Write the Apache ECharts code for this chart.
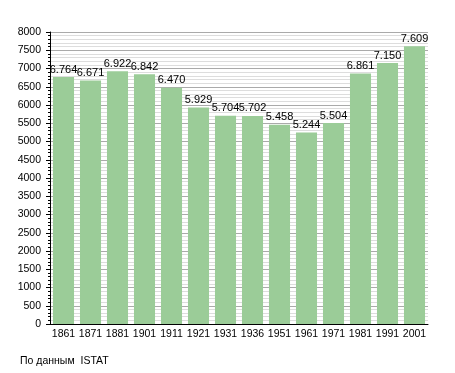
<!DOCTYPE html>
<html><head><meta charset="utf-8">
<script src="https://cdn.jsdelivr.net/npm/echarts@6/dist/echarts.min.js"></script>
<style>html,body{margin:0;padding:0;background:#fff}#c{width:455px;height:373px}</style>
</head><body><div id="c"></div>
<script>
const years = ['1861','1871','1881','1901','1911','1921','1931','1936','1951','1961','1971','1981','1991','2001'];
const population = [6764,6671,6922,6842,6470,5929,5704,5702,5458,5244,5504,6861,7150,7609];
const yTicks = {min:0, max:8000, interval:500};
const footer = 'По данным  ISTAT';

const chart = echarts.init(document.getElementById('c'), null, {renderer:'canvas'});
const fmt = v => { const s = String(v); return s.length > 3 ? s.slice(0, s.length-3) + '.' + s.slice(-3) : s; };
chart.setOption({
  animation:false,
  textStyle:{fontFamily:'Liberation Sans, Arial, sans-serif'},
  grid:{left:50, top:32, right:27, bottom:49, containLabel:false},
  graphic:[{type:'text', left:20, top:356, style:{text:footer, fontSize:10.5, fill:'#000', fontFamily:'Liberation Sans, Arial, sans-serif'}}],
  xAxis:{type:'category', data:years,
    axisLine:{lineStyle:{color:'#000', width:1}}, axisTick:{show:false},
    axisLabel:{color:'#000', fontSize:10.5, margin:5, interval:0}},
  yAxis:{type:'value', min:yTicks.min, max:yTicks.max, interval:yTicks.interval,
    axisLine:{show:true, lineStyle:{color:'#000'}},
    axisTick:{show:true, length:4, lineStyle:{color:'#000'}},
    minorTick:{show:true, splitNumber:5, length:2, lineStyle:{color:'#000'}},
    splitLine:{show:true, lineStyle:{color:'#aaa', width:1}},
    minorSplitLine:{show:true, lineStyle:{color:'#ddd', width:1}},
    axisLabel:{color:'#000', fontSize:10.5, margin:9, formatter:v=>String(v)}},
  series:[{type:'bar', data:population, barCategoryGap:'22%',
    itemStyle:{color:'#9bcc98'},
    label:{show:true, position:'top', distance:2, color:'#000', fontSize:11, formatter:p=>fmt(p.value)}}]
});
</script></body></html>
